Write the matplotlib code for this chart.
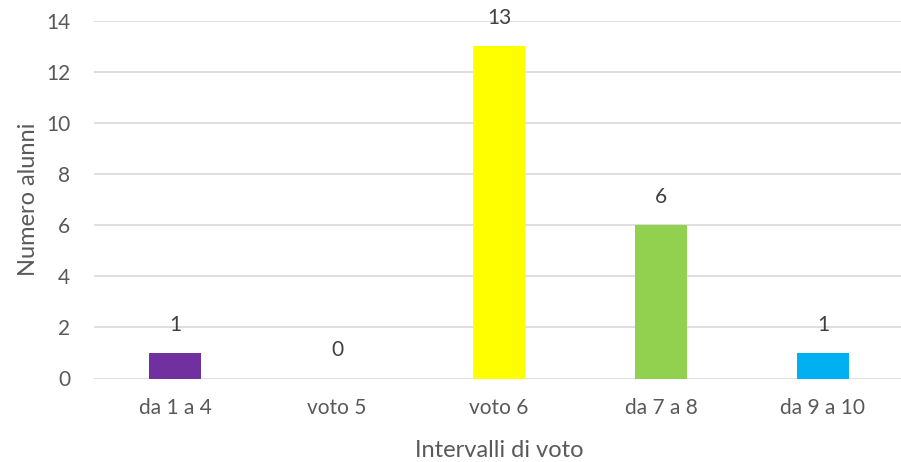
import matplotlib.pyplot as plt

# Data
categories = ['da 1 a 4', 'voto 5', 'voto 6', 'da 7 a 8', 'da 9 a 10']
values = [1, 0, 13, 6, 1]
colors = ['#7030A0', '#7030A0', '#FFFF00', '#92D050', '#00B0F0']
yticks = [0, 2, 4, 6, 8, 10, 12, 14]

plt.rcParams['font.family'] = ['Lato', 'DejaVu Sans']

fig = plt.figure(figsize=(9.01, 4.62), dpi=100)
W, H = 901, 462
ax = fig.add_axes([94 / W, (H - 378.5) / H, 810 / W, (378.5 - 20.7) / H])

x = list(range(len(categories)))
ax.bar(x, values, width=0.315, color=colors, zorder=3)

for xi, v in zip(x, values):
    ax.annotate(str(v), (xi, v), xytext=(0, 18), textcoords='offset pixels',
                ha='center', va='bottom', fontsize=15, color='#404040')

ax.set_xlim(-0.5, 4.5)
ax.set_ylim(0, 14)
ax.set_yticks(yticks)
ax.set_xticks(x)
ax.set_xticklabels(categories)
ax.grid(axis='y', color='#D9D9D9', linewidth=1.2, zorder=0)
ax.tick_params(axis='both', length=0, labelsize=15, labelcolor='#595959')
ax.tick_params(axis='y', pad=17)
ax.tick_params(axis='x', pad=14)
for s in ax.spines.values():
    s.set_visible(False)

ax.set_xlabel('Intervalli di voto', fontsize=17, color='#595959', labelpad=16)
ax.set_ylabel('Numero alunni', fontsize=17, color='#595959', labelpad=5)

plt.savefig('out.png', dpi=100)
